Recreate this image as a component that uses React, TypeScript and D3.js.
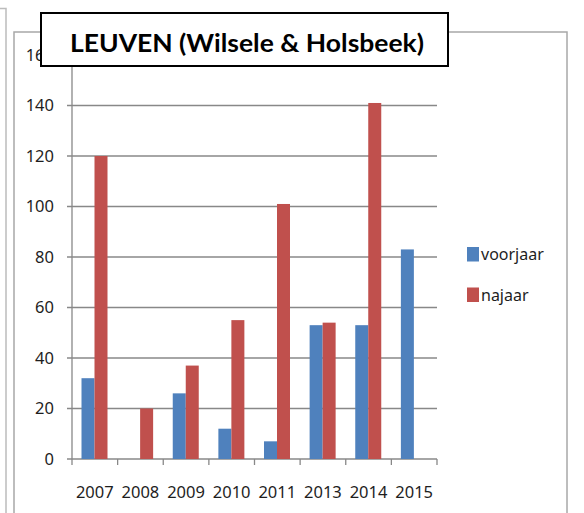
import React from "react";
import * as d3 from "d3";

const categories = ["2007", "2008", "2009", "2010", "2011", "2013", "2014", "2015"];
const voorjaar = [32, 0, 26, 12, 7, 53, 53, 83];
const najaar = [120, 20, 37, 55, 101, 54, 141, 0];
const seriesNames = ["voorjaar", "najaar"];
const seriesColors = ["#4F81BD", "#C0504D"];
const yTicks = [0, 20, 40, 60, 80, 100, 120, 140, 160];
const title = "LEUVEN (Wilsele & Holsbeek)";

export default function App() {
  const W = 584, H = 513;
  const x0 = 72, x1 = 437, yBottom = 459, yTop = 55;
  const x = d3.scaleBand<string>().domain(categories).range([x0, x1]).padding(0);
  const step = x.step();
  const xs = d3.scaleBand<string>().domain(seriesNames).range([9.5, 35.5]).padding(0);
  const y = d3.scaleLinear().domain([0, 160]).range([yBottom, yTop]);
  const series = [voorjaar, najaar];
  const labelFont = "'Noto Sans', 'Open Sans', sans-serif";
  const boundaries = d3.range(categories.length + 1).map((i) => x0 + i * step);

  return (
    <svg width={W} height={H} style={{ position: "absolute", left: 0, top: 0, background: "#fff" }}>
      <rect x={0} y={0} width={W} height={H} fill="#fff" />
      <path d="M0,8.5 H6 V513" fill="none" stroke="#bcbcbc" strokeWidth={1.5} />
      <rect x={14} y={32} width={553} height={500} fill="#fff" stroke="#a8a8a8" strokeWidth={1.5} />
      {/* gridlines */}
      {yTicks.map((t) => (
        <line key={"g" + t} x1={67} x2={x1} y1={y(t)} y2={y(t)} stroke="#888" strokeWidth={1.3} />
      ))}
      {/* y axis */}
      <line x1={x0} x2={x0} y1={yTop} y2={yBottom} stroke="#888" strokeWidth={1.3} />
      {/* x ticks */}
      {boundaries.map((bx, i) => (
        <line key={"xt" + i} x1={bx} x2={bx} y1={yBottom} y2={yBottom + 6} stroke="#888" strokeWidth={1.3} />
      ))}
      {/* bars */}
      {series.map((vals, si) =>
        vals.map((v, i) =>
          v > 0 ? (
            <rect
              key={si + "-" + i}
              x={(x(categories[i]) as number) + (xs(seriesNames[si]) as number)}
              y={y(v)}
              width={xs.bandwidth()}
              height={yBottom - y(v)}
              fill={seriesColors[si]}
            />
          ) : null
        )
      )}
      {/* y labels */}
      {yTicks.map((t) => (
        <text key={"yl" + t} x={54} y={y(t)} dy="0.36em" textAnchor="end" fontFamily={labelFont} fontSize={16.5} fill="#1e1e1e">
          {t}
        </text>
      ))}
      {/* x labels */}
      {categories.map((c) => (
        <text key={"xl" + c} x={(x(c) as number) + step / 2} y={498} textAnchor="middle" fontFamily={labelFont} fontSize={16.5} fill="#1e1e1e">
          {c}
        </text>
      ))}
      {/* legend */}
      {seriesNames.map((s, i) => (
        <g key={"lg" + s} transform={`translate(467, ${247 + i * 40.5})`}>
          <rect x={0} y={0} width={12} height={14.5} fill={seriesColors[i]} />
          <text x={14} y={13} fontFamily={labelFont} fontSize={16} fill="#1e1e1e">
            {s}
          </text>
        </g>
      ))}
      {/* title */}
      <rect x={41} y={13} width={407} height={53} fill="#fff" stroke="#000" strokeWidth={2} />
      <text x={247} y={51.5} textAnchor="middle" fontFamily="Lato, 'Open Sans', sans-serif" fontWeight="bold" fontSize={25} fill="#000" textLength={354} lengthAdjust="spacingAndGlyphs">
        {title}
      </text>
    </svg>
  );
}
